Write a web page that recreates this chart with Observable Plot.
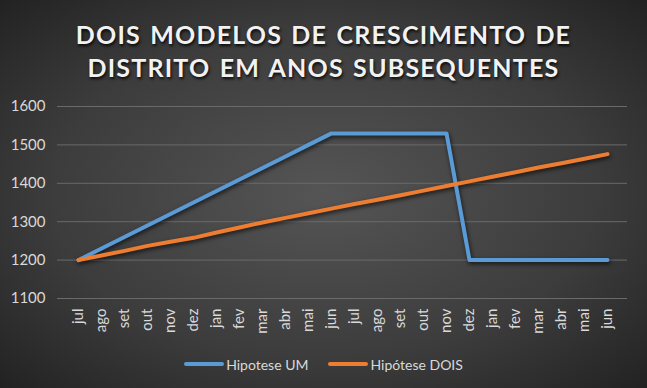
<!DOCTYPE html>
<html>
<head>
<meta charset="utf-8">
<script src="https://cdn.jsdelivr.net/npm/d3@7"></script>
<script src="https://cdn.jsdelivr.net/npm/@observablehq/plot@0.6"></script>
<style>
  html, body { margin: 0; padding: 0; }
  #chart {
    width: 647px; height: 388px; position: relative; overflow: hidden;
    background: radial-gradient(ellipse at 50% 50%, #555555 0%, #3c3c3c 60%, #222222 100%);
    font-family: Lato, "Open Sans", sans-serif;
  }
  #title {
    position: absolute; left: 0; top: 18px; width: 647px; text-align: center;
    color: #f2f2f2; font-size: 25px; font-weight: 700; line-height: 33px;
    letter-spacing: 1.2px; word-spacing: 2px;
    text-shadow: 1px 2px 3px rgba(0,0,0,0.85);
  }
  #plot { position: absolute; left: 0; top: 90px; }
  #legend {
    position: absolute; left: 0; top: 352px; width: 647px; text-align: center;
    color: #d9d9d9; font-size: 14px;
  }
  .item { display: inline-flex; align-items: center; margin: 0 10px; }
  .sw { display: inline-block; width: 40px; height: 4px; border-radius: 2px; margin-right: 2px; }
  .line-shadow { filter: drop-shadow(1px 2px 2px rgba(0,0,0,0.7)); }
</style>
</head>
<body>
<div id="chart">
  <div id="title">DOIS MODELOS DE CRESCIMENTO DE<br>DISTRITO EM ANOS SUBSEQUENTES</div>
  <div id="plot"></div>
  <div id="legend"></div>
</div>
<script>
const months = ["jul","ago","set","out","nov","dez","jan","fev","mar","abr","mai","jun",
                "jul","ago","set","out","nov","dez","jan","fev","mar","abr","mai","jun"];
const hipoteseUM = [1200,1230,1260,1290,1320,1350,1380,1410,1440,1470,1500,1530,
                    1530,1530,1530,1530,1530,1200,1200,1200,1200,1200,1200,1200];
const hipoteseDOIS = [1200,1212,1224,1237,1248,1258,1272,1285,1298,1310,1322,1334,
                      1346,1357,1369,1381,1393,1405,1417,1429,1441,1452,1464,1476];
const seriesNames = ["Hipotese UM", "Hipótese DOIS"];
const seriesColors = ["#5B9BD5", "#ED7D31"];
const yTicks = [1100, 1200, 1300, 1400, 1500, 1600];

const idx = d3.range(months.length);
const rows = [];
[hipoteseUM, hipoteseDOIS].forEach((vals, s) => {
  vals.forEach((v, i) => rows.push({i, value: v, serie: seriesNames[s]}));
});

const plot = Plot.plot({
  width: 647,
  height: 250,
  marginLeft: 57,
  marginRight: 20,
  marginTop: 16,
  marginBottom: 42,
  style: {background: "transparent", color: "#d9d9d9", fontFamily: "Lato, 'Open Sans', sans-serif"},
  x: {type: "point", domain: idx, padding: 0.5},
  y: {domain: [1100, 1600]},
  color: {domain: seriesNames, range: seriesColors},
  marks: [
    Plot.gridY(yTicks, {stroke: "#6a6a6a", strokeOpacity: 1, strokeWidth: 1}),
    Plot.axisY(yTicks, {tickSize: 0, tickPadding: 12, fontSize: 15, fill: "#d9d9d9", label: null,
                        tickFormat: d => String(d)}),
    Plot.axisX(idx, {tickSize: 0, tickPadding: 10, tickRotate: -90, fontSize: 15, fill: "#d9d9d9",
                     tickFormat: i => months[i], label: null}),
    Plot.line(rows, {x: "i", y: "value", z: "serie", stroke: "serie", strokeWidth: 4,
                     strokeLinecap: "round", strokeLinejoin: "round", className: "line-shadow"})
  ]
});
document.getElementById("plot").appendChild(plot);

const legend = document.getElementById("legend");
seriesNames.forEach((n, s) => {
  const it = document.createElement("span");
  it.className = "item";
  it.innerHTML = `<span class="sw" style="background:${seriesColors[s]}"></span>${n}`;
  legend.appendChild(it);
});
</script>
</body>
</html>
